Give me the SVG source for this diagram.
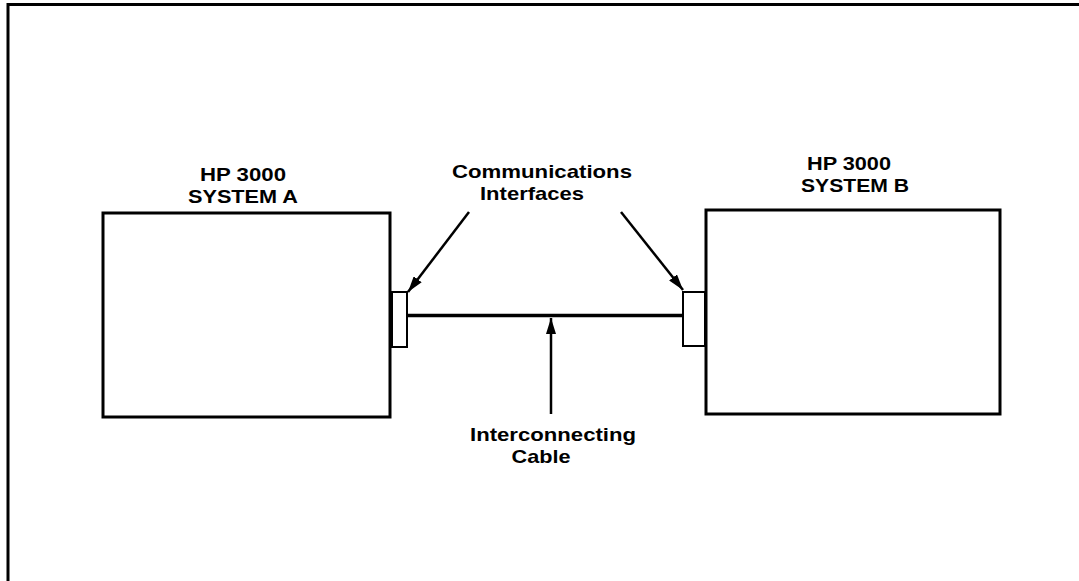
<svg xmlns="http://www.w3.org/2000/svg" width="1079" height="581" viewBox="0 0 1079 581">
<defs>
<marker id="ah" viewBox="0 0 16 10" refX="16" refY="5" markerWidth="16" markerHeight="10" markerUnits="userSpaceOnUse" orient="auto">
<path d="M0,0 L16,5 L0,10 Z" fill="#000"/>
</marker>
<style>
.box{fill:#fff;stroke:#000;stroke-width:3}
.ifc{fill:#fff;stroke:#000;stroke-width:2}
.lbl{font-family:"Liberation Sans",Arial,sans-serif;font-weight:bold;font-size:19px;fill:#000;text-anchor:middle}
.arr{stroke:#000;stroke-width:2.5;fill:none;marker-end:url(#ah)}
.cable{stroke:#000;stroke-width:3.5;fill:none}
.frame{stroke:#000;stroke-width:3;fill:none}
</style>
</defs>
<rect width="1079" height="581" fill="#fff"/>
<path class="frame" d="M8,581 L8,4.5 L1079,4.5"/>
<g id="systemA">
<rect class="box" x="103" y="213" width="287" height="204"/>
<text class="lbl" x="243" y="181" textLength="86" lengthAdjust="spacingAndGlyphs">HP 3000</text>
<text class="lbl" x="243" y="203" textLength="110" lengthAdjust="spacingAndGlyphs">SYSTEM A</text>
</g>
<g id="systemB">
<rect class="box" x="706" y="210" width="294" height="204"/>
<text class="lbl" x="849" y="170" textLength="84" lengthAdjust="spacingAndGlyphs">HP 3000</text>
<text class="lbl" x="855" y="192" textLength="108" lengthAdjust="spacingAndGlyphs">SYSTEM B</text>
</g>
<g id="interfaceA">
<rect class="ifc" x="392" y="292" width="15" height="55"/>
</g>
<g id="interfaceB">
<rect class="ifc" x="683" y="292" width="22" height="54"/>
</g>
<g id="labelInterfaces">
<text class="lbl" x="542" y="178" textLength="180" lengthAdjust="spacingAndGlyphs">Communications</text>
<text class="lbl" x="532" y="200" textLength="104" lengthAdjust="spacingAndGlyphs">Interfaces</text>
</g>
<g id="labelCable">
<text class="lbl" x="553" y="441" textLength="166" lengthAdjust="spacingAndGlyphs">Interconnecting</text>
<text class="lbl" x="541" y="463" textLength="59" lengthAdjust="spacingAndGlyphs">Cable</text>
</g>
<g id="connectors">
<line class="cable" x1="407" y1="315.5" x2="683" y2="315.5"/>
<line class="arr" x1="551" y1="414" x2="551" y2="318"/>
<line class="arr" x1="469" y1="212" x2="408" y2="292"/>
<line class="arr" x1="621" y1="212" x2="683" y2="290"/>
</g>
</svg>
